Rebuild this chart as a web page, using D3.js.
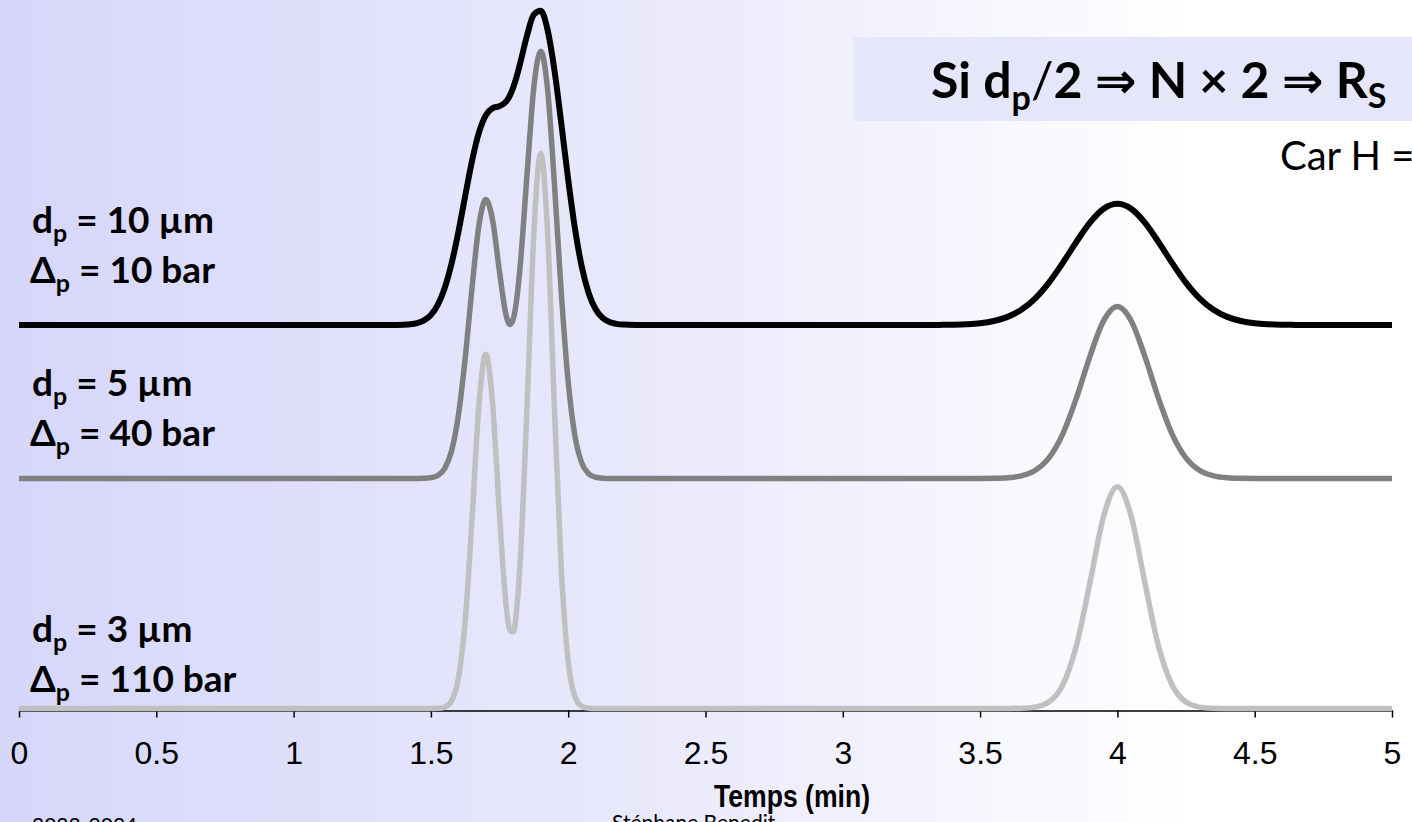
<!DOCTYPE html>
<html><head><meta charset="utf-8">
<script src="https://cdn.jsdelivr.net/npm/d3@7/dist/d3.min.js"></script>
<style>html,body{margin:0;padding:0;overflow:hidden;background:#fff}</style>
</head><body>
<svg id="chart" width="1412" height="822"></svg>
<script>
// ---------- DATA ----------
const times = [0, 1.0, 1.3, 1.35, 1.40, 1.425, 1.45, 1.475, 1.50, 1.525, 1.55, 1.575, 1.60, 1.625, 1.65, 1.675,
  1.70, 1.725, 1.75, 1.775, 1.7875, 1.80, 1.8125, 1.825, 1.85, 1.875, 1.90, 1.925, 1.95, 1.975, 2.00, 2.025,
  2.05, 2.075, 2.10, 2.125, 2.15, 2.175, 2.20, 2.25, 2.30, 3.00, 3.30, 3.35, 3.40, 3.45, 3.50, 3.55, 3.60,
  3.65, 3.70, 3.75, 3.80, 3.85, 3.90, 3.95, 4.00, 4.05, 4.10, 4.15, 4.20, 4.25, 4.30, 4.35, 4.40, 4.45,
  4.50, 4.55, 4.60, 4.65, 4.70, 5.00];

// signal of each chromatogram (dp = 10, 5, 3 µm)
const signalDp10 = [0, 0, 0, 0, 0.03, 0.09, 0.25, 0.60, 1.31, 2.62, 4.80, 7.98, 12.12, 16.84, 21.42, 25.10,
  27.35, 28.27, 28.53, 29.17, 29.90, 30.99, 32.42, 34.11, 37.74, 40.48, 40.96, 38.46, 33.20, 26.24, 18.95, 12.48,
  7.50, 4.11, 2.05, 0.94, 0.39, 0.15, 0.05, 0.01, 0, 0, 0, 0.01, 0.04, 0.10, 0.23, 0.52, 1.06,
  1.99, 3.45, 5.50, 8.04, 10.80, 13.34, 15.15, 15.80, 15.15, 13.34, 10.80, 8.04, 5.50, 3.45, 1.99, 1.06, 0.52,
  0.23, 0.10, 0.04, 0.01, 0, 0];
const signalDp5 = [0, 0, 0, 0, 0, 0, 0, 0.02, 0.10, 0.38, 1.28, 3.55, 8.19, 15.69, 24.96, 33.00,
  36.35, 33.60, 26.90, 21.10, 20.07, 20.80, 23.34, 27.65, 39.60, 51.05, 55.70, 50.70, 38.30, 24.10, 12.60, 5.45,
  1.96, 0.59, 0.15, 0.03, 0, 0, 0, 0, 0, 0, 0, 0, 0, 0, 0, 0.02, 0.09,
  0.34, 1.03, 2.65, 5.71, 10.39, 15.92, 20.56, 22.40, 20.56, 15.92, 10.39, 5.71, 2.65, 1.03, 0.34, 0.09, 0.02,
  0, 0, 0, 0, 0, 0];
const signalDp3 = [0, 0, 0, 0, 0, 0, 0, 0, 0, 0.02, 0.18, 0.98, 3.91, 11.50, 24.90, 39.60,
  46.20, 39.60, 25.20, 13.00, 10.15, 10.00, 12.96, 19.10, 39.30, 62.00, 72.40, 62.00, 39.10, 18.10, 6.13, 1.53,
  0.28, 0.04, 0, 0, 0, 0, 0, 0, 0, 0, 0, 0, 0, 0, 0, 0, 0,
  0.03, 0.18, 0.84, 3.01, 8.09, 16.41, 25.09, 28.90, 25.09, 16.41, 8.09, 3.01, 0.84, 0.18, 0.03, 0, 0,
  0, 0, 0, 0, 0, 0];

const seriesOffsets = [50, 30, 0];
const seriesColors = ["#000000", "#808080", "#c0c0c0"];
const particleSizes = ["10 µm", "5 µm", "3 µm"];
const pressureDrops = ["10 bar", "40 bar", "110 bar"];

const tickValues = [0, 0.5, 1, 1.5, 2, 2.5, 3, 3.5, 4, 4.5, 5];
const tickLabels = ["0", "0.5", "1", "1.5", "2", "2.5", "3", "3.5", "4", "4.5", "5"];
const xTitle = "Temps (min)";

// ---------- LAYOUT ----------
const W = 1412, H = 822;
const svg = d3.select("#chart");
const defs = svg.append("defs");
const grad = defs.append("linearGradient").attr("id", "bg").attr("x1", "0").attr("x2", "1").attr("y1", "0").attr("y2", "0");
grad.append("stop").attr("offset", "0").attr("stop-color", "#d6d6fb");
grad.append("stop").attr("offset", "0.5").attr("stop-color", "#ebebfc");
grad.append("stop").attr("offset", "0.85").attr("stop-color", "#ffffff");
svg.append("rect").attr("width", W).attr("height", H).attr("fill", "url(#bg)");

const x = d3.scaleLinear().domain([0, 5]).range([19, 1392]);
const y = d3.scaleLinear().domain([0, 50]).range([708.5, 325]);

// axis
const axisG = svg.append("g").attr("transform", "translate(0,710.5)")
  .call(d3.axisBottom(x).tickValues(tickValues).tickFormat((d, i) => tickLabels[i]).tickSize(7).tickSizeOuter(0));
axisG.select(".domain").attr("stroke", "#000").attr("stroke-width", 1.5);
axisG.selectAll(".tick line").attr("stroke", "#000").attr("stroke-width", 1.5);
axisG.selectAll(".tick text").attr("y", 53).attr("dy", 0)
  .style("font-family", "'Liberation Sans', Arial, sans-serif").style("font-size", "32px").attr("fill", "#000");

svg.append("text").attr("x", 792).attr("y", 807).attr("text-anchor", "middle")
  .attr("textLength", 156).attr("lengthAdjust", "spacingAndGlyphs")
  .style("font-family", "'Liberation Sans', Arial, sans-serif").style("font-weight", "bold").style("font-size", "32px")
  .text(xTitle);

// curves
const signals = [signalDp10, signalDp5, signalDp3];
const line = d3.line().curve(d3.curveMonotoneX);
signals.forEach((sig, k) => {
  const pts = times.map((t, i) => [x(t), y(sig[i] + seriesOffsets[k])]);
  svg.append("path").attr("d", line(pts)).attr("fill", "none")
    .attr("stroke", seriesColors[k]).attr("stroke-width", k === 0 ? 6 : 5.5)
    .attr("stroke-linejoin", "round");
});

// labels
const labelFont = "Lato, 'Noto Sans', 'DejaVu Sans', sans-serif";
const labelBaselines = [233, 396, 642];
particleSizes.forEach((s, k) => {
  const g = svg.append("g").style("font-family", labelFont).style("font-weight", "bold").style("font-size", "37px").attr("fill", "#000");
  const t1 = g.append("text").attr("x", 32).attr("y", labelBaselines[k]);
  t1.append("tspan").text("d");
  t1.append("tspan").attr("dy", 9).style("font-size", "25px").text("p");
  t1.append("tspan").attr("dy", -9).text(" = " + s);
  const t2 = g.append("text").attr("x", 30).attr("y", labelBaselines[k] + 50);
  t2.append("tspan").text("Δ");
  t2.append("tspan").attr("dy", 9).style("font-size", "25px").text("p");
  t2.append("tspan").attr("dy", -9).text(" = " + pressureDrops[k]);
});

// title box
svg.append("rect").attr("x", 853).attr("y", 37).attr("width", 600).attr("height", 84).attr("fill", "#e6e6fa");
const tt = svg.append("text").attr("x", 931).attr("y", 98)
  .style("font-family", labelFont).style("font-weight", "bold").style("font-size", "50px").attr("fill", "#000");
tt.append("tspan").text("Si d");
tt.append("tspan").attr("dy", 12).style("font-size", "34px").text("p");
tt.append("tspan").attr("dy", -12).style("font-weight", "normal").text("/");
tt.append("tspan").text("2 ⇒ N × 2 ⇒ R");
tt.append("tspan").attr("dy", 10).style("font-size", "34px").text("S");

svg.append("text").attr("x", 1280).attr("y", 170)
  .style("font-family", labelFont).style("font-size", "40px").attr("fill", "#000").text("Car H =");

// footer
svg.append("text").attr("x", 32).attr("y", 833).style("font-family", labelFont).style("font-size", "21px").attr("fill", "#000").text("2023-2024");
svg.append("text").attr("x", 612).attr("y", 830).style("font-family", labelFont).style("font-size", "21px").attr("fill", "#000").text("Stéphane Benedit");
</script>
</body></html>
